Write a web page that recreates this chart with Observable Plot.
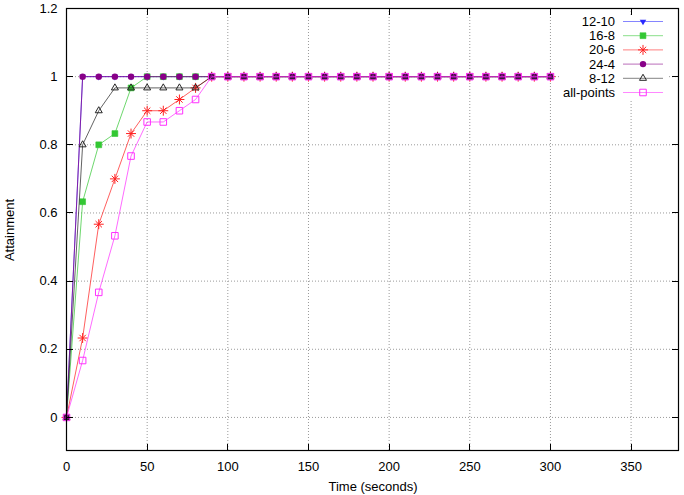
<!DOCTYPE html>
<html>
<head>
<meta charset="utf-8">
<script src="https://cdn.jsdelivr.net/npm/d3@7"></script>
<script src="https://cdn.jsdelivr.net/npm/@observablehq/plot@0.6"></script>
<style>
  html, body { margin: 0; padding: 0; background: white; }
</style>
</head>
<body>
<div id="chart"></div>
<script>
// ---- data ----
const time = [0,10,20,30,40,50,60,70,80,90,100,110,120,130,140,150,160,170,180,190,200,210,220,230,240,250,260,270,280,290,300];
const s12_10 = [0,1,1,1,1,1,1,1,1,1,1,1,1,1,1,1,1,1,1,1,1,1,1,1,1,1,1,1,1,1,1];
const s16_8  = [0,0.633,0.8,0.833,0.967,1,1,1,1,1,1,1,1,1,1,1,1,1,1,1,1,1,1,1,1,1,1,1,1,1,1];
const s20_6  = [0,0.233,0.567,0.7,0.833,0.9,0.9,0.933,0.967,1,1,1,1,1,1,1,1,1,1,1,1,1,1,1,1,1,1,1,1,1,1];
const s24_4  = [0,1,1,1,1,1,1,1,1,1,1,1,1,1,1,1,1,1,1,1,1,1,1,1,1,1,1,1,1,1,1];
const s8_12  = [0,0.8,0.9,0.967,0.967,0.967,0.967,0.967,0.967,1,1,1,1,1,1,1,1,1,1,1,1,1,1,1,1,1,1,1,1,1,1];
const sAll   = [0,0.167,0.367,0.533,0.767,0.867,0.867,0.9,0.933,1,1,1,1,1,1,1,1,1,1,1,1,1,1,1,1,1,1,1,1,1,1];

const seriesNames = ["12-10","16-8","20-6","24-4","8-12","all-points"];
const seriesValues = [s12_10, s16_8, s20_6, s24_4, s8_12, sAll];
const xTicks = [0,50,100,150,200,250,300,350];
const yTicks = [0,0.2,0.4,0.6,0.8,1,1.2];
const xLabel = "Time (seconds)";
const yLabel = "Attainment";

// ---- styles ----
const styles = [
  {color: "#2a2aff", symbols: [{symbol: "triangle", fill: true, rotate: 180, r: 2.4, sw: 0}]},
  {color: "#33c733", symbols: [{symbol: "square", fill: true, r: 3.3, sw: 0.6}]},
  {color: "#ff2020", symbols: [{symbol: "plus", fill: false, r: 3.3, sw: 1}, {symbol: "times", fill: false, r: 3.0, sw: 1}]},
  {color: "#880088", symbols: [{symbol: "circle", fill: true, r: 3.2, sw: 0}]},
  {color: "#262626", symbols: [{symbol: "triangle", fill: false, r: 2.6, sw: 1}]},
  {color: "#ff30ff", symbols: [{symbol: "square", fill: false, r: 3.7, sw: 1}]}
];
const lineOpacity = 0.8;

const W = 684, H = 495;
const mT = 8, mR = 5, mB = 44, mL = 66;
const fw = W - mL - mR, fh = H - mT - mB;
const tickLen = 7;

const table = [];
seriesValues.forEach((vals, si) => vals.forEach((v, i) => table.push({series: seriesNames[si], t: time[i], v})));

const seriesMarks = [];
seriesNames.forEach((name, si) => {
  const data = table.filter(d => d.series === name);
  const st = styles[si];
  seriesMarks.push(Plot.line(data, {x: "t", y: "v", stroke: st.color, strokeWidth: 0.9, strokeOpacity: lineOpacity}));
  st.symbols.forEach(sym => {
    seriesMarks.push(Plot.dot(data, {
      x: "t", y: "v", symbol: sym.symbol, r: sym.r,
      rotate: sym.rotate || 0,
      fill: sym.fill ? st.color : "none",
      stroke: sym.sw ? st.color : "none", strokeWidth: sym.sw || 1
    }));
  });
});

const gridStyle = {stroke: "#9a9a9a", strokeOpacity: 1, strokeWidth: 1, strokeDasharray: "1,2"};

const plot = Plot.plot({
  width: W, height: H,
  marginTop: mT, marginRight: mR, marginBottom: mB, marginLeft: mL,
  style: {fontFamily: "'Liberation Sans', Arial, sans-serif", fontSize: "13px", background: "white", color: "black"},
  x: {domain: [0, 380]},
  y: {domain: [-0.1, 1.2]},
  marks: [
    Plot.gridX(xTicks.slice(1), gridStyle),
    Plot.gridY(yTicks.slice(0, -1), gridStyle),
    ...seriesMarks,
    Plot.axisX(xTicks, {tickSize: 0, tickPadding: 10, label: null, tickFormat: d3.format("d"), fontSize: 13}),
    Plot.axisY(yTicks, {tickSize: 0, tickPadding: 9, label: null, tickFormat: d => String(d), fontSize: 13}),
    Plot.text([xLabel], {text: d => d, frameAnchor: "bottom", lineAnchor: "bottom", dy: 39, fontSize: 13}),
    Plot.text([yLabel], {text: d => d, frameAnchor: "left", textAnchor: "middle", dx: -57, dy: 0, rotate: -90, fontSize: 13})
  ]
});

// ---- legend (key), drawn over the grid ----
const svg = d3.select(plot);
const key = svg.append("g");
key.append("rect").attr("x", 560).attr("y", 15).attr("width", 109).attr("height", 84).attr("fill", "white");
const symMap = {triangle: d3.symbolTriangle, square: d3.symbolSquare, circle: d3.symbolCircle, plus: d3.symbolPlus, times: d3.symbolTimes};
seriesNames.forEach((name, si) => {
  const y = 21.5 + si * 14.2;
  const st = styles[si];
  key.append("text").attr("x", 615).attr("y", y).attr("dy", "0.35em")
    .attr("text-anchor", "end").attr("font-size", 13).attr("fill", "black").text(name);
  key.append("line").attr("x1", 623).attr("x2", 663).attr("y1", y).attr("y2", y)
    .attr("stroke", st.color).attr("stroke-width", 0.9).attr("stroke-opacity", lineOpacity * 0.8);
  st.symbols.forEach(sym => {
    key.append("path")
      .attr("d", d3.symbol(symMap[sym.symbol], Math.PI * sym.r * sym.r)())
      .attr("transform", `translate(643,${y}) rotate(${sym.rotate || 0})`)
      .attr("fill", sym.fill ? st.color : "none")
      .attr("stroke", sym.sw ? st.color : "none").attr("stroke-width", sym.sw || 1);
  });
});

// ---- inward ticks (mirrored) and border, via the plot's scales ----
const sx = plot.scale("x"), sy = plot.scale("y");
const x0 = mL, x1 = W - mR, y0 = mT, y1 = H - mB;
const ticks = svg.append("g").attr("stroke", "black").attr("stroke-width", 1);
xTicks.forEach(t => {
  const px = Math.round(sx.apply(t)) + 0.5;
  ticks.append("line").attr("x1", px).attr("x2", px).attr("y1", y1).attr("y2", y1 - tickLen);
  ticks.append("line").attr("x1", px).attr("x2", px).attr("y1", y0).attr("y2", y0 + tickLen);
});
yTicks.forEach(t => {
  const py = Math.round(sy.apply(t)) + 0.5;
  ticks.append("line").attr("x1", x0).attr("x2", x0 + tickLen).attr("y1", py).attr("y2", py);
  ticks.append("line").attr("x1", x1).attr("x2", x1 - tickLen).attr("y1", py).attr("y2", py);
});
svg.append("rect").attr("x", x0 + 0.5).attr("y", y0 + 0.5).attr("width", fw - 1).attr("height", fh - 1)
  .attr("fill", "none").attr("stroke", "black").attr("stroke-width", 1.2);

document.getElementById("chart").append(plot);
</script>
</body>
</html>
